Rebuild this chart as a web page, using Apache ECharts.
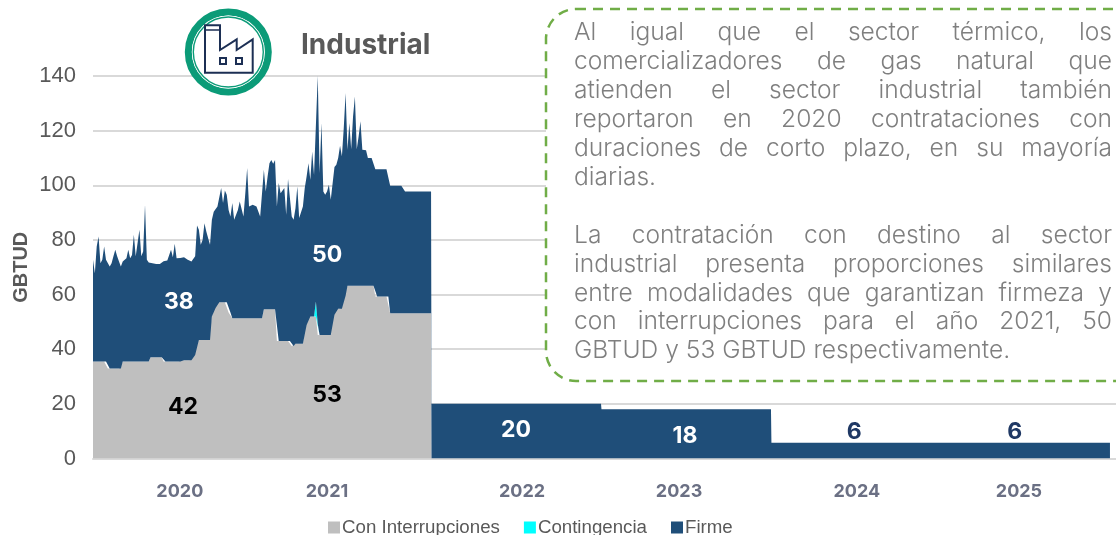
<!DOCTYPE html>
<html>
<head>
<meta charset="utf-8">
<title>Industrial</title>
<script src="https://cdn.jsdelivr.net/npm/echarts@6/dist/echarts.min.js"></script>
<style>
  html, body { margin: 0; padding: 0; background: #fff; overflow: hidden; }
  #chart { width: 1116px; height: 535px; }
</style>
</head>
<body>
<div id="chart"></div>
<script>
// 2020-2021 leido cada 4 dias, despues solo los escalones
const dias = [
  0,4,8,12,16,20,24,28,32,36,40,44,48,52,56,60,64,68,72,76,80,84,88,92,96,100,104,108,112,116,
  120,124,128,132,136,140,144,148,152,156,160,164,168,172,176,180,184,188,192,196,200,204,208,212,216,220,224,228,232,236,
  240,244,248,252,256,260,264,268,272,276,280,284,288,292,296,300,304,308,312,316,320,324,328,332,336,340,344,348,352,356,
  360,364,368,372,376,380,384,388,392,396,400,404,408,412,416,420,424,428,432,436,440,444,448,452,456,460,464,468,472,476,
  480,484,488,492,496,500,504,508,512,516,520,524,528,532,536,540,544,548,552,556,560,564,568,572,576,580,584,588,592,596,
  600,604,608,612,616,620,624,628,632,636,640,644,648,652,656,660,664,668,672,676,680,684,688,692,696,700,704,708,712,716,
  720,724,728,
  729,1094,1095,1460,1461,2190
];
const conInterrupciones = [
  35.5,35.5,35.5,35.5,35.5,35.5,35.5,35.5,32.9,32.9,32.9,32.9,32.9,32.9,32.9,32.9,35.5,35.5,35.5,35.5,35.5,35.5,35.5,35.5,35.5,35.5,35.5,35.5,35.5,35.5,
  35.5,37.1,37.1,37.1,37.1,37.1,37.1,37.1,35.5,35.5,35.5,35.5,35.5,35.5,35.5,35.5,35.5,35.5,36,36,36,36,36,36,37.9,37.9,43.4,43.4,43.4,43.4,
  43.4,43.4,43.4,43.4,52,55.1,55.1,57.2,57.2,57.2,57.2,57.2,57.2,53.4,53.4,51.3,51.3,51.3,51.3,51.3,51.3,51.3,51.3,51.3,51.3,51.3,51.3,51.3,51.3,51.3,
  51.3,51.3,54.6,54.6,54.6,54.6,54.6,54.6,54.6,43,43,43,43,43,43,43,43,41.2,41.2,42,42,42,42,42,48.9,48.9,52,52,52,52,
  52,45.2,45.2,45.2,45.2,45.2,45.2,45.2,45.2,52.6,52.6,54.8,54.8,54.8,54.8,59.6,59.6,63.2,63.2,63.2,63.2,63.2,63.2,63.2,63.2,63.2,63.2,63.2,63.2,63.2,
  63.2,63.2,59.3,59.3,59.3,59.3,59.3,59.3,59.3,59.3,53.2,53.2,53.2,53.2,53.2,53.2,53.2,53.2,53.2,53.2,53.2,53.2,53.2,53.2,53.2,53.2,53.2,53.2,53.2,53.2,
  53.2,53.2,53.2,
  0,0,0,0,0,0
];
// solo hay contingencia en un pico a finales de 2020
const contingencia = [
  null,null,null,null,null,null,null,null,null,null,null,null,null,null,null,null,null,null,null,null,null,null,null,null,null,null,null,null,null,null,
  null,null,null,null,null,null,null,null,null,null,null,null,null,null,null,null,null,null,null,null,null,null,null,null,null,null,null,null,null,null,
  null,null,null,null,null,null,null,null,null,null,null,null,null,null,null,null,null,null,null,null,null,null,null,null,null,null,null,null,null,null,
  null,null,null,null,null,null,null,null,null,null,null,null,null,null,null,null,null,null,null,null,null,null,null,null,null,null,null,null,null,0,
  5.5,4,0,null,null,null,null,null,null,null,null,null,null,null,null,null,null,null,null,null,null,null,null,null,null,null,null,null,null,null,
  null,null,null,null,null,null,null,null,null,null,null,null,null,null,null,null,null,null,null,null,null,null,null,null,null,null,null,null,null,null,
  null,null,null,
  null,null,null,null,null,null
];
// techo del area apilada (suma de las tres modalidades)
const totalGBTUD = [
  72.7,67.8,77.6,81.3,71.5,72.7,77.6,72.7,72.1,70.3,71.5,74,76.4,74,72.1,70.3,72.1,72.7,73.3,76.4,73.3,74.5,81.9,74,74.5,83.7,74,75.8,92.9,72.7,
  71.7,71.5,71.5,71.5,71.2,71.5,71.2,71.2,72.2,72,72.5,72.7,76.4,73.7,78.6,73.3,73.7,73.4,74,73.7,74,72.7,72.5,72.1,72.1,74,85.3,83.7,78.2,80,
  86.1,83.1,80.6,78.2,87.4,90.3,90.3,92.2,92.2,99,93.5,98.1,96.5,91,88.6,93.5,87.4,86.7,91,94.1,94.7,88.6,97.1,106.3,92.2,92.2,92.9,92.2,92.2,91.6,
  88.6,97.1,105.7,97.7,103.2,108.1,109.3,107.9,109.3,92.2,100.8,97.1,97.7,99,89.2,102.3,102,88.6,87.4,91.6,99.6,88,87.4,92.2,99,103.2,108.1,102,112.4,103.8,
  103.2,140.1,104.5,122.8,97.7,96.5,97.7,100.2,94.7,94.1,106.7,107.5,110,114.5,110.6,121,133.8,113,122.8,113.2,125.2,132.5,113.2,117.9,123.4,113,113,112.8,110,110,
  110,110,105.9,105.9,105.9,105.9,105.9,105.9,105.9,105.9,99.8,99.8,99.8,99.8,99.8,99.8,99.8,99.8,97.7,97.7,97.7,97.7,97.7,97.7,97.7,97.7,97.7,97.7,97.7,97.7,
  97.7,97.7,97.7,
  20,20,18,18,5.8,5.8
];
const firme = totalGBTUD.map((t, i) => +(t - conInterrupciones[i] - contingencia[i]).toFixed(1));

// etiquetas de valor
const etiquetasTexto = ['38', '42', '50', '53', '20', '18', '6', '6'];
const etiquetasDia = [185, 194, 504, 504, 911, 1275, 1639, 1985];
const etiquetasAltura = [57.3, 18.9, 74.4, 23.3, 10.5, 8.3, 9.7, 9.7];
const etiquetasColor = ['#fff', '#000', '#fff', '#000', '#fff', '#fff', '#1f3864', '#1f3864'];

const anios = ['2020', '2021', '2022', '2023', '2024', '2025'];
const aniosDia = [187, 504, 924, 1262, 1645, 1994];

const parrafo = [
  ['Al igual que el sector térmico, los', true],
  ['comercializadores de gas natural que', true],
  ['atienden el sector industrial también', true],
  ['reportaron en 2020 contrataciones con', true],
  ['duraciones de corto plazo, en su mayoría', true],
  ['diarias.', false],
  ['', false],
  ['La contratación con destino al sector', true],
  ['industrial presenta proporciones similares', true],
  ['entre modalidades que garantizan firmeza y', true],
  ['con interrupciones para el año 2021, 50', true],
  ['GBTUD y 53 GBTUD respectivamente.', false]
];

const fuenteTexto = '300 24.6px Inter';
const ultimoDia = 2203;
const inicio = Date.UTC(2020, 0, 1);
const fecha = d => inicio + d * 864e5;

// texto justificado: cada palabra se coloca segun su ancho medido
function textoJustificado() {
  const ctx = document.createElement('canvas').getContext('2d');
  ctx.font = fuenteTexto;
  const x0 = 574, x1 = 1112, y0 = 33, paso = 28.9;
  const out = [];
  parrafo.forEach(([linea, justificar], n) => {
    if (!linea) return;
    const palabras = linea.split(' ');
    const anchos = palabras.map(p => ctx.measureText(p).width);
    const suma = anchos.reduce((a, b) => a + b, 0);
    const hueco = justificar ? (x1 - x0 - suma) / (palabras.length - 1) : ctx.measureText(' ').width;
    let x = x0;
    palabras.forEach((p, k) => {
      out.push({
        type: 'text', z: 102, x: x, y: y0 + paso * n,
        style: { text: p, font: fuenteTexto, fill: '#7f7f7f', textVerticalAlign: 'middle' }
      });
      x += anchos[k] + hueco;
    });
  });
  return out;
}

const chart = echarts.init(document.getElementById('chart'), null, { renderer: 'canvas' });

const colores = { gris: '#bfbfbf', cian: '#00ffff', azul: '#1f4e79' };

function area(nombre, valores, color) {
  return {
    name: nombre,
    type: 'line',
    stack: 'total',
    data: dias.map((d, i) => [fecha(d), valores[i]]),
    showSymbol: false,
    lineStyle: { width: 0 },
    itemStyle: { color: color },
    areaStyle: { color: color, opacity: 1 },
    silent: true
  };
}

chart.setOption({
  animation: false,
  backgroundColor: '#fff',
  grid: { left: 93, right: 0, top: 76, bottom: 76.5, outerBoundsMode: 'none' },
  legend: {
    data: ['Con Interrupciones', 'Contingencia', 'Firme'],
    left: 323, top: 513,
    icon: 'rect',
    itemWidth: 12, itemHeight: 12, itemGap: 24,
    textStyle: { fontFamily: 'Liberation Sans', fontSize: 18.7, color: '#595959', padding: [0, 0, 0, -3] }
  },
  xAxis: [
    {
      type: 'time',
      min: fecha(0), max: fecha(ultimoDia),
      splitLine: { show: false },
      axisTick: { show: false },
      axisLine: { show: true, lineStyle: { color: '#d9d9d9', width: 2 } },
      axisLabel: { show: false }
    },
    // eje solo para las etiquetas de los anios, que no van centradas en cada anio
    {
      type: 'value',
      position: 'bottom',
      min: 0, max: ultimoDia,
      splitLine: { show: false },
      axisTick: { show: false },
      axisLine: { show: false },
      axisLabel: {
        customValues: aniosDia,
        margin: 24,
        fontFamily: 'Inter', fontWeight: 700, fontSize: 18, color: '#6b7084',
        formatter: v => anios[aniosDia.indexOf(v)]
      }
    }
  ],
  yAxis: {
    type: 'value',
    min: 0, max: 140, interval: 20,
    name: 'GBTUD',
    nameLocation: 'middle',
    nameGap: 62,
    nameMoveOverlap: false,
    nameTextStyle: { fontFamily: 'Liberation Sans', fontWeight: 700, fontSize: 20, color: '#595959' },
    axisLine: { show: false },
    axisTick: { show: false },
    axisLabel: { margin: 17, padding: [2, 0, 0, 0], fontFamily: 'Liberation Sans', fontSize: 22, color: '#595959' },
    splitLine: { lineStyle: { color: '#d9d9d9', width: 2 } }
  },
  series: [
    area('Con Interrupciones', conInterrupciones, colores.gris),
    area('Contingencia', contingencia, colores.cian),
    area('Firme', firme, colores.azul),
    {
      name: 'etiquetas',
      type: 'scatter',
      xAxisIndex: 1,
      symbolSize: 0,
      silent: true,
      z: 10,
      itemStyle: { opacity: 1 },
      data: etiquetasTexto.map((t, i) => ({
        value: [etiquetasDia[i], etiquetasAltura[i]],
        label: {
          show: true, position: 'inside', formatter: t,
          fontFamily: 'Inter', fontWeight: 700, fontSize: 23, color: etiquetasColor[i]
        }
      }))
    }
  ],
  graphic: [
    // recuadro de texto, se sale por la derecha
    {
      type: 'rect', z: 100,
      shape: { x: 546, y: 9, width: 700, height: 372, r: 30 },
      style: { fill: '#fff', stroke: '#70ad47', lineWidth: 2.5, lineDash: [10, 7] }
    },
    ...textoJustificado(),
    // icono de la fabrica
    { type: 'circle', z: 100, shape: { cx: 228.3, cy: 52, r: 40 }, style: { fill: 'none', stroke: '#0b9b78', lineWidth: 7 } },
    { type: 'circle', z: 101, shape: { cx: 228.3, cy: 52, r: 36.4 }, style: { fill: '#fff' } },
    { type: 'circle', z: 101, shape: { cx: 228.3, cy: 52, r: 35 }, style: { fill: '#fff', stroke: '#0b9b78', lineWidth: 1.4 } },
    {
      type: 'polygon', z: 102,
      shape: { points: [[205, 72.7], [205, 25.3], [220, 25.3], [220, 50], [236.7, 39.3], [236.7, 50], [252.7, 39.3], [252.7, 72.7]] },
      style: { fill: 'none', stroke: '#1c2f54', lineWidth: 2 }
    },
    { type: 'line', z: 102, shape: { x1: 205, y1: 30, x2: 220, y2: 30 }, style: { stroke: '#1c2f54', lineWidth: 1.5 } },
    { type: 'rect', z: 102, shape: { x: 220, y: 58, width: 6, height: 6 }, style: { fill: 'none', stroke: '#1c2f54', lineWidth: 2 } },
    { type: 'rect', z: 102, shape: { x: 236, y: 58, width: 6, height: 6 }, style: { fill: 'none', stroke: '#1c2f54', lineWidth: 2 } },
    {
      type: 'text', z: 102, x: 301, y: 46,
      style: { text: 'Industrial', font: '700 28px Inter', fill: '#595959', textVerticalAlign: 'middle' }
    }
  ]
});
</script>
</body>
</html>
